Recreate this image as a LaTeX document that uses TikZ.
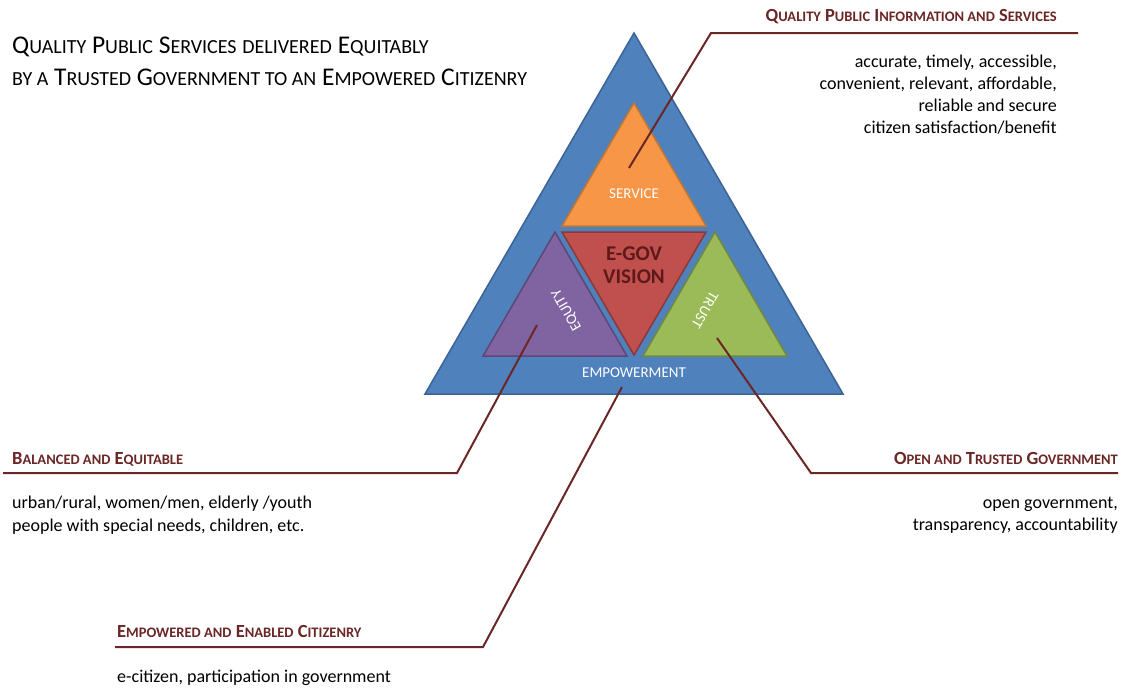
\documentclass[tikz,border=0pt]{standalone}
\usepackage{fontspec}
\setmainfont{Carlito}
\definecolor{outerblue}{HTML}{4F81BD}
\definecolor{outerblueline}{HTML}{3A6396}
\definecolor{servorange}{HTML}{F79646}
\definecolor{servline}{HTML}{C0772F}
\definecolor{visionred}{HTML}{C0504D}
\definecolor{visionline}{HTML}{8C3836}
\definecolor{visiontext}{HTML}{5E1A1A}
\definecolor{equitypurple}{HTML}{8064A2}
\definecolor{equityline}{HTML}{5C4776}
\definecolor{trustgreen}{HTML}{9BBB59}
\definecolor{trustline}{HTML}{71893F}
\definecolor{leader}{HTML}{6B2626}
% fake small caps: lowercase letters set as reduced capitals
\newcommand\tsc[1]{{\fontsize{20}{20}\selectfont\MakeUppercase{#1}}}
\newcommand\hsc[1]{{\fontsize{14.5}{14.5}\selectfont\MakeUppercase{#1}}}
\tikzset{
  tri/.style={line width=1.5pt, line join=miter},
  leaderline/.style={draw=leader, line width=2pt},
  titletext/.style={font=\fontsize{25.5}{25.5}\selectfont, anchor=base west, inner sep=0},
  headtext/.style={font=\fontsize{18.5}{18.5}\selectfont\bfseries, text=leader, inner sep=0},
  bodytext/.style={font=\fontsize{18}{18}\selectfont, inner sep=0},
  intext/.style={font=\fontsize{15}{15}\selectfont, text=white, inner sep=0},
}
\begin{document}
\begin{tikzpicture}[x=1pt,y=-1pt]
\useasboundingbox[fill=white] (0,0) rectangle (1122,689);

% outer triangle and the four inner ones
\draw[tri, fill=outerblue, draw=outerblueline] (634,33) -- (843,394) -- (425,394) -- cycle;
\draw[tri, fill=servorange, draw=servline] (634,103) -- (706,226) -- (562,226) -- cycle;
\draw[tri, fill=visionred, draw=visionline] (562,232) -- (706,232) -- (634,355) -- cycle;
\draw[tri, fill=equitypurple, draw=equityline] (555,232) -- (627,356) -- (483,356) -- cycle;
\draw[tri, fill=trustgreen, draw=trustline] (715,232) -- (787,356) -- (643,356) -- cycle;

% labels inside the triangle
\node[intext] (service) at (634,194) {SERVICE};
\node[font=\fontsize{21}{23}\selectfont\bfseries, text=visiontext, align=center, inner sep=0] (vision) at (634,265) {E-GOV\\VISION};
\node[intext, rotate=120] (equity) at (567,310) {EQUITY};
\node[intext, rotate=-120] (trust) at (705,310) {TRUST};
\node[intext] (empower) at (634,373) {EMPOWERMENT};

% leader anchors
\coordinate (pServ) at (629,168);
\coordinate (kServ) at (711,33);
\coordinate (eServ) at (1078,33);
\coordinate (pEq) at (537,325);
\coordinate (kEq) at (457,473);
\coordinate (eEq) at (3,473);
\coordinate (pTr) at (717,338);
\coordinate (kTr) at (811,473);
\coordinate (eTr) at (1118,473);
\coordinate (pEm) at (622,387);
\coordinate (kEm) at (483,647);
\coordinate (eEm) at (115,647);

\draw[leaderline] (pServ) -- (kServ) -- (eServ);
\draw[leaderline] (pEq) -- (kEq) -- (eEq);
\draw[leaderline] (pTr) -- (kTr) -- (eTr);
\draw[leaderline] (pEm) -- (kEm) -- (eEm);

% title
\node[titletext] (title1) at (12,53) {Q\tsc{uality} P\tsc{ublic} S\tsc{ervices} \tsc{delivered} E\tsc{quitably}};
\node[titletext] (title2) at (12,85) {\tsc{by a} T\tsc{rusted} G\tsc{overnment to an} E\tsc{mpowered} C\tsc{itizenry}};

% quality public information and services
\node[headtext, anchor=base east] (hServ) at (1057,21) {Q\hsc{uality} P\hsc{ublic} I\hsc{nformation and} S\hsc{ervices}};
\node[bodytext, anchor=base east] (bServ1) at (1057,67) {accurate, timely, accessible,};
\node[bodytext, anchor=base east] (bServ2) at (1057,89) {convenient, relevant, affordable,};
\node[bodytext, anchor=base east] (bServ3) at (1057,111) {reliable and secure};
\node[bodytext, anchor=base east] (bServ4) at (1057,133) {citizen satisfaction/benefit};

% balanced and equitable
\node[headtext, anchor=base west] (hEq) at (12,464) {B\hsc{alanced and} E\hsc{quitable}};
\node[bodytext, anchor=base west] (bEq1) at (12,508) {urban/rural, women/men, elderly /youth};
\node[bodytext, anchor=base west] (bEq2) at (12,531) {people with special needs, children, etc.};

% open and trusted government
\node[headtext, anchor=base east] (hTr) at (1118,464) {O\hsc{pen and} T\hsc{rusted} G\hsc{overnment}};
\node[bodytext, anchor=base east] (bTr1) at (1118,508) {open government,};
\node[bodytext, anchor=base east] (bTr2) at (1118,530) {transparency, accountability};

% empowered and enabled citizenry
\node[headtext, anchor=base west] (hEm) at (117,637) {E\hsc{mpowered and} E\hsc{nabled} C\hsc{itizenry}};
\node[bodytext, anchor=base west] (bEm1) at (117,682) {e-citizen, participation in government};
\end{tikzpicture}
\end{document}
